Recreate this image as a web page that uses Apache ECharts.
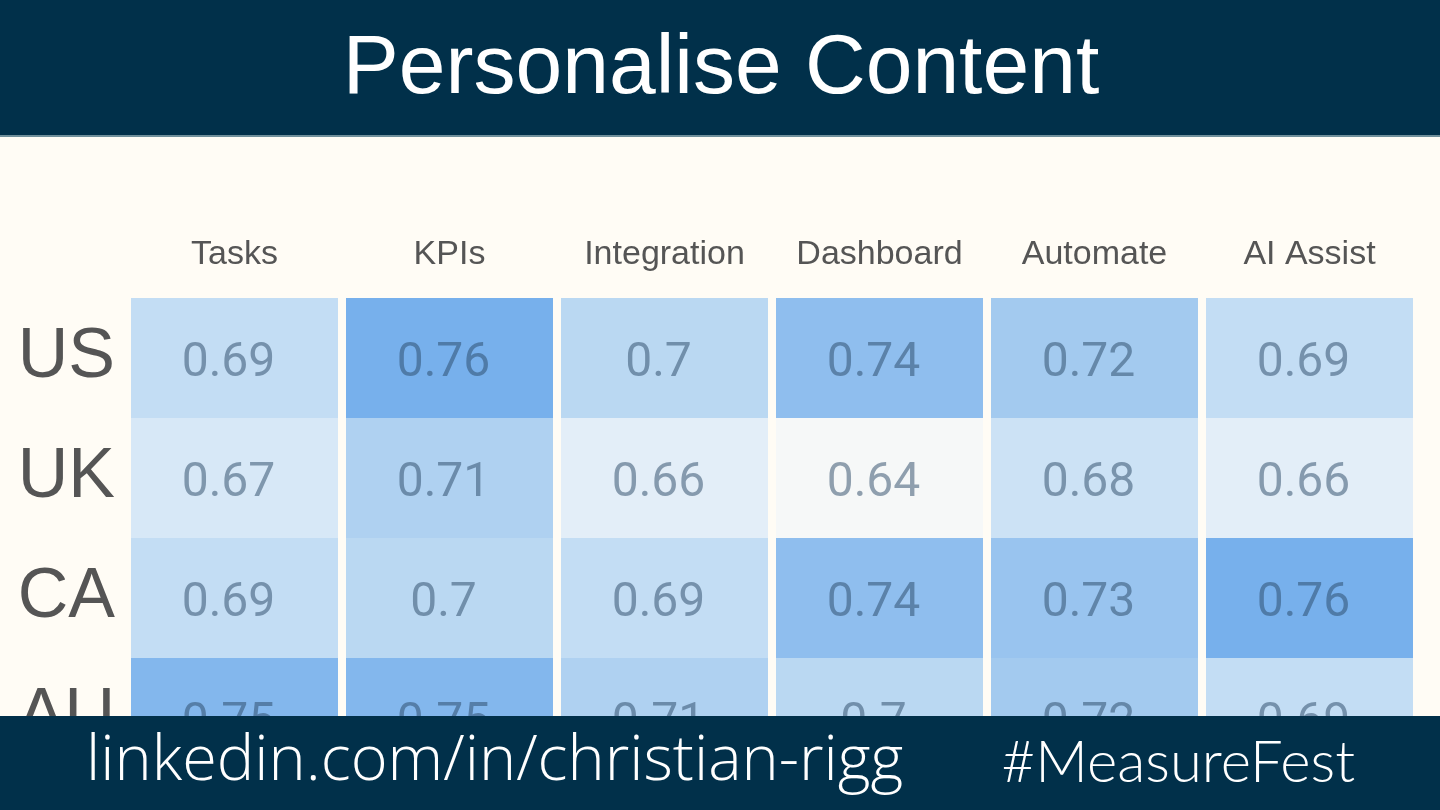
<!DOCTYPE html>
<html>
<head>
<meta charset="utf-8">
<script src="https://cdn.jsdelivr.net/npm/echarts@6/dist/echarts.min.js"></script>
<style>
  html, body { margin: 0; padding: 0; background: #fffcf5; }
  #chart { width: 1440px; height: 810px; }
</style>
</head>
<body>
<div id="chart"></div>
<script>
const columns = ['Tasks', 'KPIs', 'Integration', 'Dashboard', 'Automate', 'AI Assist'];
const rows = ['US', 'UK', 'CA', 'AU'];
const valuesUS = [0.69, 0.76, 0.7, 0.74, 0.72, 0.69];
const valuesUK = [0.67, 0.71, 0.66, 0.64, 0.68, 0.66];
const valuesCA = [0.69, 0.7, 0.69, 0.74, 0.73, 0.76];
const valuesAU = [0.75, 0.75, 0.71, 0.7, 0.72, 0.69];
const titleText = 'Personalise Content';
const footerLeft = 'linkedin.com/in/christian-rigg';
const footerRight = '#MeasureFest';

const allRows = [valuesUS, valuesUK, valuesCA, valuesAU];
const data = [];
allRows.forEach((vals, r) => vals.forEach((v, c) => data.push([c, r, v])));

const chart = echarts.init(document.getElementById('chart'));
chart.setOption({
  backgroundColor: '#fffcf5',
  animation: false,
  grid: { left: 127, right: 23, top: 298, bottom: 32 },
  xAxis: {
    type: 'category', data: columns, position: 'top',
    axisLine: { show: false }, axisTick: { show: false }, splitLine: { show: false },
    axisLabel: { interval: 0, hideOverlap: false, color: '#555', fontSize: 34, fontFamily: 'Liberation Sans', margin: 26 }
  },
  yAxis: {
    type: 'category', data: rows, inverse: true,
    axisLine: { show: false }, axisTick: { show: false }, splitLine: { show: false },
    axisLabel: { interval: 0, color: '#555', fontSize: 70, fontFamily: 'Liberation Sans', margin: 12 }
  },
  visualMap: {
    show: false, min: 0.64, max: 0.76, dimension: 2,
    inRange: { color: ['#f6f8f8', '#e3eef8', '#cce2f5', '#bad8f2', '#a3caef', '#8fbeee', '#77b0ec'] }
  },
  series: [{
    type: 'custom',
    data: data,
    encode: { x: 0, y: 1 },
    renderItem: function (params, api) {
      const c = api.coord([api.value(0), api.value(1)]);
      const s = api.size([1, 1]);
      const v = api.value(2);
      return {
        type: 'rect',
        shape: { x: c[0] - s[0] / 2 + 4, y: c[1] - s[1] / 2, width: s[0] - 8, height: s[1] },
        style: { fill: api.visual('color') },
        textContent: {
          style: { text: String(v), fontSize: 48, fontFamily: 'Roboto', fill: 'rgba(40,70,100,0.5)' }
        },
        textConfig: { position: 'inside', offset: [-6, 6] }
      };
    }
  }],
  graphic: [
    { type: 'rect', z: 100, shape: { x: 0, y: 0, width: 1440, height: 135 }, style: { fill: '#01304a' } },
    { type: 'rect', z: 100, shape: { x: 0, y: 135, width: 1440, height: 2 }, style: { fill: '#6f8f9b' } },
    { type: 'text', z: 101, x: 721, y: 70,
      style: { text: titleText, fill: '#ffffff', fontSize: 84, fontFamily: 'Liberation Sans', align: 'center', verticalAlign: 'middle' } },
    { type: 'rect', z: 100, shape: { x: 0, y: 716, width: 1440, height: 94 }, style: { fill: '#01304a' } },
    { type: 'text', z: 101, x: 86, y: 762,
      style: { text: footerLeft, fill: '#ffffff', fontSize: 63, fontFamily: 'Open Sans', fontWeight: 300, align: 'left', verticalAlign: 'middle' } },
    { type: 'text', z: 101, x: 1355, y: 763,
      style: { text: footerRight, fill: '#ffffff', fontSize: 58, fontFamily: 'Lato', fontWeight: 300, align: 'right', verticalAlign: 'middle' } }
  ]
});
</script>
</body>
</html>
